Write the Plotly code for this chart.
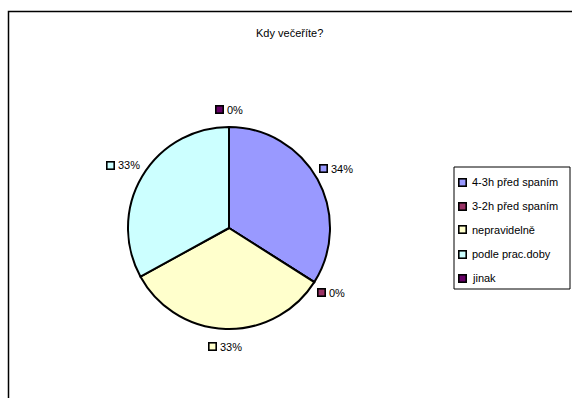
import math
import plotly.graph_objects as go

# Survey answers: "When do you have dinner?"
categories = ["4-3h před spaním", "3-2h před spaním", "nepravidelně", "podle prac.doby", "jinak"]
shares = [34, 0, 33, 33, 0]
colors = ["#9999FF", "#993366", "#FFFFCC", "#CCFFFF", "#660066"]
title_text = "Kdy večeříte?"

W, H = 572, 398
FONT = "Liberation Sans, Arial, sans-serif"

# pie geometry in pixels
cx, cy, r = 229, 228, 101


def px(x):
    return x / W


def py(y):
    return 1 - y / H


fig = go.Figure()
fig.add_trace(go.Pie(
    labels=categories,
    values=shares,
    sort=False,
    direction="clockwise",
    rotation=0,
    marker=dict(colors=colors, line=dict(color="black", width=2)),
    textinfo="none",
    hoverinfo="label+percent",
    showlegend=False,
    domain=dict(x=[px(cx - r), px(cx + r)], y=[py(cy + r), py(cy - r)]),
))

annotations = []
shapes = []


def key_box(x, y, color):
    annotations.append(dict(
        x=px(x), y=py(y), xref="paper", yref="paper", text=" ",
        xanchor="center", yanchor="middle",
        showarrow=False, width=6, height=6, bgcolor=color,
        bordercolor="black", borderwidth=1.6, borderpad=0,
        font=dict(size=2),
    ))


def text_width(s, size=11):
    widths = {"%": 0.889}
    return sum(widths.get(ch, 0.556) for ch in s) * size


# data labels with legend keys, placed around each slice's mid angle
total = sum(shares)
acc = 0.0
for val, col in zip(shares, colors):
    frac = val / total
    mid = (acc + frac / 2) * 2 * math.pi
    acc += frac
    label = f"{round(frac * 100)}%"
    w = 8 + 3 + text_width(label)
    s, c = math.sin(mid), math.cos(mid)
    rad = 98.5 + abs(s) * w / 2 + abs(c) * 20
    gx = cx + rad * s
    gy = cy - rad * c
    left = gx - w / 2
    key_box(left + 4, gy, col)
    annotations.append(dict(
        x=px(left + 9.5), y=py(gy), xref="paper", yref="paper",
        xanchor="left", yanchor="middle", text=label, showarrow=False,
        font=dict(family=FONT, size=11, color="black"),
    ))

# legend
lx0, ly0, lx1, ly1 = 454, 167, 570, 289
shapes.append(dict(type="rect", xref="paper", yref="paper",
                   x0=px(lx0), x1=px(lx1), y0=py(ly1), y1=py(ly0),
                   line=dict(color="black", width=1), fillcolor="white", layer="below"))
for i, (name, col) in enumerate(zip(categories, colors)):
    yy = 182 + 24 * i
    key_box(462, yy, col)
    annotations.append(dict(
        x=px(470), y=py(yy), xref="paper", yref="paper",
        xanchor="left", yanchor="middle", text=name, showarrow=False,
        font=dict(family=FONT, size=11, color="black"),
    ))

# chart title
annotations.append(dict(
    x=px(289), y=py(33), xref="paper", yref="paper",
    xanchor="center", yanchor="middle", text=title_text, showarrow=False,
    font=dict(family=FONT, size=11, color="black"),
))

# chart area frame
shapes.append(dict(type="rect", xref="paper", yref="paper",
                   x0=px(8.5), x1=px(W + 10), y0=py(H + 10), y1=py(11.5),
                   line=dict(color="black", width=1.5), layer="below"))

fig.update_layout(
    width=W, height=H,
    margin=dict(l=0, r=0, t=0, b=0),
    paper_bgcolor="white", plot_bgcolor="white",
    showlegend=False,
    annotations=annotations,
    shapes=shapes,
    font=dict(family=FONT, size=11, color="black"),
)

fig.write_html("out.html")
